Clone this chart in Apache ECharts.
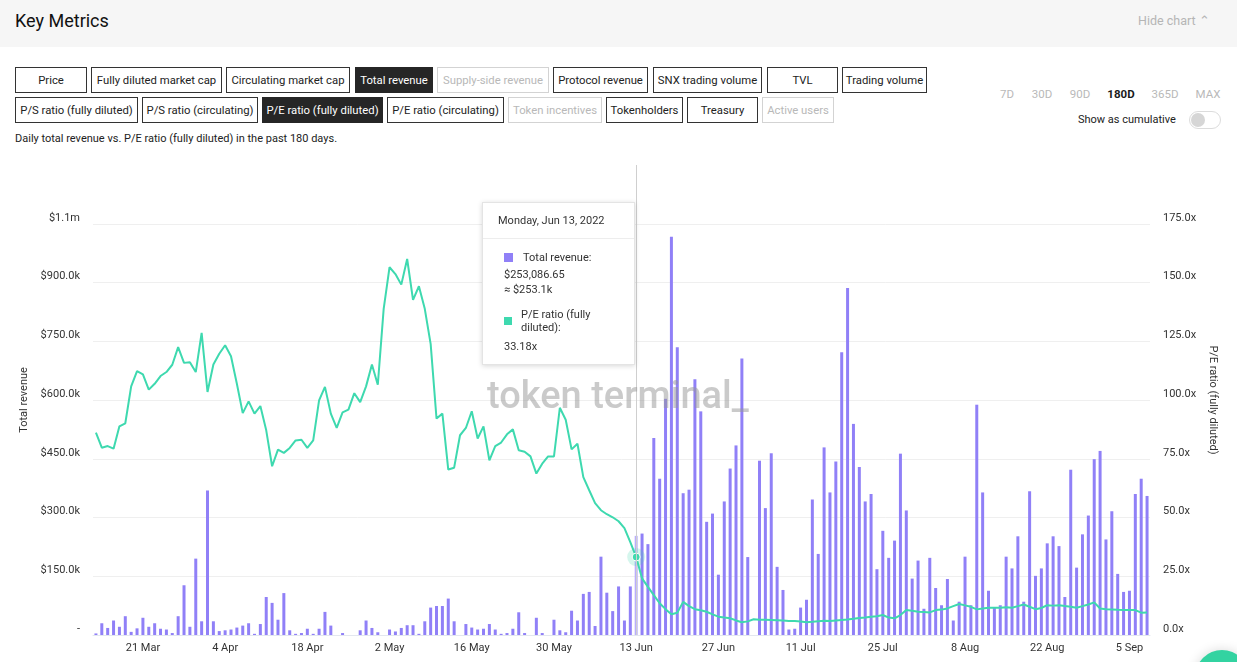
<!DOCTYPE html>
<html><head><meta charset="utf-8">
<script src="https://cdn.jsdelivr.net/npm/echarts@6/dist/echarts.min.js"></script>
<style>
html,body{margin:0;padding:0;width:1237px;height:662px;overflow:hidden;background:#fff;font-family:Roboto,"Noto Sans",sans-serif;color:#222;}
#hdr{position:absolute;left:0;top:0;width:1237px;height:47px;background:#f6f6f6;}
#title{position:absolute;left:15px;top:10px;font-size:18px;color:#111;}
#hide{position:absolute;left:1138px;top:13px;font-size:12.5px;color:#b5b5b5;}
.btn{position:absolute;height:26px;box-sizing:border-box;border:1px solid #333;font-size:11.3px;line-height:26px;text-align:center;color:#222;white-space:nowrap;background:#fff;overflow:hidden;}
.btn.on{background:#262626;color:#fff;border-color:#262626;}
.btn.off{border-color:#d3d3d3;color:#b8b8b8;}
.rng{position:absolute;top:87px;font-size:11.5px;color:#b9b9b9;transform:translateX(-50%);}
.rng.sel{color:#1a1a1a;font-weight:700;}
#cum{position:absolute;left:1078px;top:113px;font-size:11px;color:#222;}
#tog{position:absolute;left:1189px;top:111px;width:32px;height:18px;box-sizing:border-box;border:1px solid #dcdcdc;border-radius:9px;background:#fff;}
#knob{position:absolute;left:1px;top:1px;width:14px;height:14px;border-radius:50%;background:#d6d6d6;}
#desc{position:absolute;left:15px;top:132px;font-size:11px;color:#222;}
#chat{position:absolute;left:1195px;top:650px;width:54px;height:54px;border-radius:50%;background:#33d3a1;box-shadow:0 0 12px rgba(0,0,0,0.15);}
#chart{position:absolute;left:0;top:0;width:1237px;height:662px;}
</style>
</head><body>
<div id="hdr"><div id="title">Key Metrics</div><div id="hide">Hide chart &#8963;</div></div>
<div class="btn" style="left:15px;top:67px;width:72px">Price</div>
<div class="btn" style="left:91px;top:67px;width:131px">Fully diluted market cap</div>
<div class="btn" style="left:226px;top:67px;width:124px">Circulating market cap</div>
<div class="btn on" style="left:355px;top:67px;width:78px">Total revenue</div>
<div class="btn off" style="left:437px;top:67px;width:112px">Supply-side revenue</div>
<div class="btn" style="left:553px;top:67px;width:95px">Protocol revenue</div>
<div class="btn" style="left:653px;top:67px;width:109px">SNX trading volume</div>
<div class="btn" style="left:767px;top:67px;width:71px">TVL</div>
<div class="btn" style="left:842px;top:67px;width:85px">Trading volume</div>
<div class="btn" style="left:15px;top:97px;width:123px">P/S ratio (fully diluted)</div>
<div class="btn" style="left:142px;top:97px;width:116px">P/S ratio (circulating)</div>
<div class="btn on" style="left:262px;top:97px;width:121px">P/E ratio (fully diluted)</div>
<div class="btn" style="left:387px;top:97px;width:117px">P/E ratio (circulating)</div>
<div class="btn off" style="left:508px;top:97px;width:94px">Token incentives</div>
<div class="btn" style="left:606px;top:97px;width:77px">Tokenholders</div>
<div class="btn" style="left:687px;top:97px;width:71px">Treasury</div>
<div class="btn off" style="left:762px;top:97px;width:72px">Active users</div>
<div class="rng" style="left:1007px">7D</div>
<div class="rng" style="left:1042px">30D</div>
<div class="rng" style="left:1080px">90D</div>
<div class="rng sel" style="left:1121px">180D</div>
<div class="rng" style="left:1165px">365D</div>
<div class="rng" style="left:1208px">MAX</div>
<div id="cum">Show as cumulative</div>
<div id="tog"><div id="knob"></div></div>
<div id="desc">Daily total revenue vs. P/E ratio (fully diluted) in the past 180 days.</div>
<div id="chart"></div>
<div id="chat"></div>
<script>
// ---- data ----
var startDate = [2022, 3, 13];   // first day shown (180 daily categories)
var dayCount = 180;
var revenue = [
4000,30000,18000,37000,21000,48000,8000,17000,44000,21000,
30000,16000,14000,5000,48000,127000,21000,195000,35000,369000,
35000,10000,12000,14000,19000,24000,30000,3000,28000,97000,
82000,39000,107000,12000,3000,5000,16000,3000,16000,59000,
24000,0,5000,0,0,12000,37000,18000,7000,0,
14000,9000,18000,25000,25000,3000,35000,70000,74000,74000,
93000,35000,0,28000,19000,14000,16000,28000,14000,3000,
5000,16000,58000,5000,0,44000,5000,0,39000,12000,
7000,62000,37000,105000,110000,23000,200000,108000,61000,124000,
37000,124000,253086.65,259000,232000,503000,399000,603000,1017000,735000,
362000,371000,653000,571000,289000,310000,154000,341000,425000,484000,
706000,199000,0,445000,324000,464000,174000,115000,14000,16000,
70000,90000,346000,207000,479000,364000,443000,722000,886000,539000,
429000,341000,360000,168000,266000,197000,241000,463000,318000,144000,
190000,67000,197000,120000,76000,143000,37000,85000,200000,76000,
588000,364000,113000,70000,76000,200000,170000,252000,85000,367000,
151000,170000,234000,252000,227000,97000,422000,172000,257000,305000,
449000,470000,244000,316000,156000,110000,113000,360000,399000,355000
];
var peRatio = [
86.1,79.7,80.4,79.3,88.8,90.1,105.8,112.3,110.9,104.4,
106.9,110.2,111.9,115.0,122.5,115.8,116.1,111.9,128.6,103.4,
115.1,119.7,123.3,118.6,106.9,94.4,99.4,94.2,97.4,87.1,
71.8,78.9,77.5,79.6,82.8,83.1,79.6,82.8,99.8,105.6,
94.2,88.1,94.7,95.9,102.9,99.1,105.8,115.1,106.5,138.8,
156.5,153.6,149.1,160.0,142.6,148.4,138.8,123.9,92.1,94.2,
70.4,71.2,85.0,88.1,95.2,83.6,88.8,74.3,80.4,81.9,
85.4,87.5,78.6,78.0,76.0,68.7,72.9,76.0,76.0,96.7,
91.6,79.0,81.4,67.2,61.6,56.1,53.1,51.4,50.1,48.4,
45.5,39.5,33.18,24.1,20.5,17.0,13.5,11.0,8.8,9.5,
14.1,12.3,11.0,10.5,9.9,8.8,7.8,7.4,7.1,6.2,
5.4,5.8,6.7,6.5,6.5,6.4,6.3,6.2,6.0,6.0,
5.7,5.4,5.6,5.9,6.1,6.0,6.2,6.4,6.6,6.9,
7.2,7.4,7.8,8.0,8.5,7.4,7.1,8.5,10.6,10.3,
9.9,9.8,9.6,10.6,10.8,11.3,12.3,13.2,12.6,12.0,
10.9,11.3,11.6,11.6,11.6,11.8,11.6,12.3,13.0,12.0,
11.0,11.5,12.7,12.5,12.7,12.3,12.0,11.6,12.3,13.0,
13.9,11.3,11.0,10.9,10.7,10.6,10.6,10.6,9.5,9.6
];
var leftTicks = {min: 0, max: 1200000, interval: 150000};
var rightTicks = {min: 0, max: 200, interval: 25};
var hoverIndex = 92;   // day shown in the tooltip (Jun 13)
var labelEvery = 14, labelOffset = 8;

// ---- helpers ----
var MON = ['Jan','Feb','Mar','Apr','May','Jun','Jul','Aug','Sep','Oct','Nov','Dec'];
var WD = ['Sunday','Monday','Tuesday','Wednesday','Thursday','Friday','Saturday'];
var dates = [];
for (var d = 0; d < dayCount; d++) dates.push(new Date(Date.UTC(startDate[0], startDate[1]-1, startDate[2] + d)));
var categories = dates.map(function(t){ return t.getUTCDate() + ' ' + MON[t.getUTCMonth()]; });
function longDate(i){ var t = dates[i]; return WD[t.getUTCDay()] + ', ' + MON[t.getUTCMonth()] + ' ' + t.getUTCDate() + ', ' + t.getUTCFullYear(); }
function fmtMoney(v){ if (v === 0) return '-'; if (v >= 1000000) return '$' + (v/1000000).toFixed(1) + 'm'; return '$' + (v/1000).toFixed(1) + 'k'; }
function showIdx(i){ return (i - labelOffset) % labelEvery === 0; }

var BAR = '#9080f7', LINE = '#3ed9af';
var barData = revenue.map(function(v, i){
  return i === hoverIndex ? {value: v, itemStyle: {color: '#b9aefb'}} : v;
});

var chart = echarts.init(document.getElementById('chart'), null, {renderer: 'canvas'});
chart.setOption({
  animation: false,
  backgroundColor: 'transparent',
  textStyle: {fontFamily: 'Roboto, "Noto Sans", sans-serif'},
  grid: {left: 93, right: 87, top: 165, bottom: 27, containLabel: false},
  tooltip: {
    trigger: 'axis',
    triggerOn: 'none',
    alwaysShowContent: true,
    transitionDuration: 0,
    position: [482, 202],
    padding: 0,
    borderColor: '#e4e4e4',
    borderWidth: 1,
    borderRadius: 0,
    backgroundColor: '#fff',
    extraCssText: 'box-shadow:0 1px 5px rgba(0,0,0,0.16);white-space:normal;',
    axisPointer: {type: 'line', lineStyle: {color: '#cfcfcf', width: 1, type: 'solid'}, label: {show: false}},
    formatter: function(ps){
      var i = ps[0].dataIndex;
      var rev = revenue[i], pe = peRatio[i];
      var full = '$' + rev.toLocaleString('en-US', {minimumFractionDigits: 2, maximumFractionDigits: 2});
      return '<div style="width:151px;font-family:Roboto,sans-serif;font-size:11px;color:#333;white-space:normal;">'
        + '<div style="padding:10px 14px 10px 15px;line-height:15px;border-bottom:1px solid #ededed;">' + longDate(i) + '</div>'
        + '<div style="padding:11px 10px 10px 21px;">'
        + '<div style="display:flex;align-items:center;height:15px;margin-bottom:2px;"><span style="display:inline-block;width:9px;height:9px;background:' + BAR + ';margin-right:10px;"></span><span>Total revenue:</span></div>'
        + '<div style="line-height:15px;">' + full + '</div>'
        + '<div style="line-height:15px;">&asymp; ' + fmtMoney(rev) + '</div>'
        + '<div style="display:flex;align-items:center;margin-top:11px;"><span style="display:inline-block;width:8px;height:8px;background:' + LINE + ';margin-right:9px;flex:none;"></span><span style="display:block;line-height:13px;width:88px;white-space:normal;">P/E ratio (fully diluted):</span></div>'
        + '<div style="line-height:15px;margin-top:5px;">' + pe.toFixed(2) + 'x</div>'
        + '</div></div>';
    }
  },
  xAxis: {
    type: 'category',
    data: categories,
    boundaryGap: true,
    axisLine: {lineStyle: {color: '#e3e7ef'}},
    axisTick: {alignWithLabel: true, interval: function(i){ return showIdx(i); }, length: 5, lineStyle: {color: '#d6dbe6'}},
    axisLabel: {interval: function(i){ return showIdx(i); }, color: '#333', fontSize: 11, margin: 8},
    splitLine: {show: false}
  },
  yAxis: [{
    type: 'value',
    min: leftTicks.min, max: leftTicks.max, interval: leftTicks.interval,
    name: 'Total revenue',
    nameLocation: 'middle', nameRotate: 90, nameGap: 60,
    nameTextStyle: {color: '#333', fontSize: 11},
    axisLine: {show: false}, axisTick: {show: false},
    axisLabel: {showMaxLabel: false, color: '#333', fontSize: 11, margin: 13, verticalAlign: 'bottom', lineHeight: 12, formatter: fmtMoney},
    splitLine: {show: true, showMaxLine: false, lineStyle: {color: '#efefef'}}
  }, {
    type: 'value',
    position: 'right',
    min: rightTicks.min, max: rightTicks.max, interval: rightTicks.interval,
    name: 'P/E ratio (fully diluted)',
    nameLocation: 'middle', nameRotate: -90, nameGap: 54,
    nameTextStyle: {color: '#333', fontSize: 11},
    axisLine: {show: false}, axisTick: {show: false},
    axisLabel: {showMaxLabel: false, color: '#333', fontSize: 11, margin: 13, verticalAlign: 'bottom', lineHeight: 12,
      formatter: function(v){ return v.toFixed(1) + 'x'; }},
    splitLine: {show: false}
  }],
  series: [{
    name: 'Total revenue',
    type: 'bar',
    yAxisIndex: 0,
    data: barData,
    barWidth: 3,
    itemStyle: {color: BAR},
    emphasis: {disabled: true}
  }, {
    name: 'P/E ratio (fully diluted)',
    type: 'line',
    yAxisIndex: 1,
    data: peRatio,
    showSymbol: false,
    symbol: 'none',
    lineStyle: {color: LINE, width: 2},
    itemStyle: {color: LINE},
    emphasis: {disabled: true},
    z: 3,
    markPoint: {
      silent: true,
      label: {show: false},
      data: [
        {coord: [categories[hoverIndex], peRatio[hoverIndex]], symbol: 'circle', symbolSize: 18, itemStyle: {color: 'rgba(62,216,174,0.22)'}},
        {coord: [categories[hoverIndex], peRatio[hoverIndex]], symbol: 'circle', symbolSize: 8, itemStyle: {color: LINE, borderColor: '#fff', borderWidth: 1}}
      ]
    }
  }],
  graphic: [{
    type: 'text',
    left: 487, top: 379, z: 100, silent: true,
    style: {text: 'token terminal_', font: '500 38px Roboto, sans-serif', fill: 'rgba(150,150,150,0.5)'}
  }]
});
chart.dispatchAction({type: 'showTip', seriesIndex: 0, dataIndex: hoverIndex});
</script>
</body></html>
